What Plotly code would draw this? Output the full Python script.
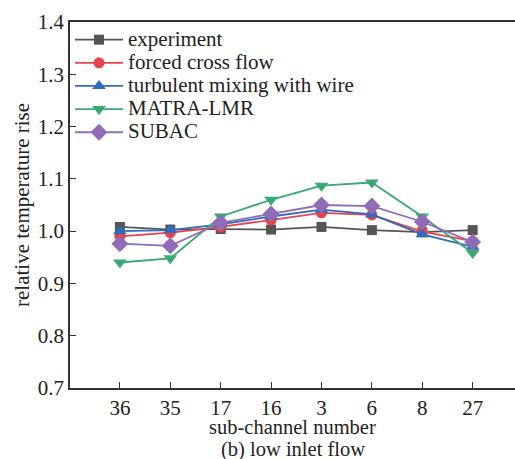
import plotly.graph_objects as go

channels = ["36", "35", "17", "16", "3", "6", "8", "27"]
experiment = [1.008, 1.003, 1.004, 1.003, 1.008, 1.002, 0.998, 1.002]
forced_cross_flow = [0.990, 0.997, 1.008, 1.021, 1.035, 1.031, 0.999, 0.981]
turbulent_mixing = [1.000, 1.002, 1.013, 1.028, 1.041, 1.032, 0.994, 0.970]
matra_lmr = [0.940, 0.948, 1.028, 1.060, 1.087, 1.093, 1.028, 0.958]
subac = [0.976, 0.972, 1.016, 1.033, 1.050, 1.048, 1.018, 0.979]

series = [
    ("experiment", experiment, "#555555", "square", 10),
    ("forced cross flow", forced_cross_flow, "#e8434b", "circle", 11),
    ("turbulent mixing with wire", turbulent_mixing, "#2f6bbf", "triangle-up", 12),
    ("MATRA-LMR", matra_lmr, "#3aa872", "triangle-down", 12),
    ("SUBAC", subac, "#8f6bb8", "diamond", 13),
]

x_idx = list(range(len(channels)))
fig = go.Figure()
for name, vals, color, sym, size in series:
    fig.add_trace(go.Scatter(
        x=x_idx, y=vals, name='<span style="font-size:21px">%s</span>' % name,
        mode="lines+markers",
        line=dict(color=color, width=1.8),
        marker=dict(symbol=sym, size=size, color=color),
    ))

font = "Liberation Serif, Times New Roman, serif"
fig.update_layout(
    width=515, height=459,
    margin=dict(l=70, r=0, t=22, b=71),
    paper_bgcolor="white", plot_bgcolor="white",
    font=dict(family=font, size=21, color="#222222"),
    showlegend=True,
    legend=dict(x=0.0, y=0.997, xanchor="left", yanchor="top",
                bgcolor="rgba(0,0,0,0)", font=dict(size=15.5, family=font),
                tracegroupgap=0, itemwidth=48),
    xaxis=dict(
        range=[-0.99, 7.84], tickmode="array", tickvals=x_idx, ticktext=channels,
        showline=True, linecolor="#333333", linewidth=1.5, mirror=True,
        ticks="inside", ticklen=6, tickcolor="#333333", showgrid=False, zeroline=False,
        automargin=False, tickfont=dict(size=21),
    ),
    yaxis=dict(
        range=[0.7, 1.4], tickvals=[0.7, 0.8, 0.9, 1.0, 1.1, 1.2, 1.3, 1.4],
        tickformat=".1f",
        showline=True, linecolor="#333333", linewidth=1.5,
        ticks="inside", ticklen=6, tickcolor="#333333", showgrid=False, zeroline=False,
        automargin=False, tickfont=dict(size=21),
    ),
    annotations=[
        dict(text="relative temperature rise", x=-0.108, y=0.5, xref="paper", yref="paper",
             xanchor="center", yanchor="middle", textangle=-90, showarrow=False,
             font=dict(size=21)),
        dict(text="sub-channel number", x=0.5, y=-0.107, xref="paper", yref="paper",
             xanchor="center", yanchor="middle", showarrow=False, font=dict(size=20.5)),
        dict(text="(b) low inlet flow", x=0.5, y=-0.167, xref="paper", yref="paper",
             xanchor="center", yanchor="middle", showarrow=False, font=dict(size=20.5)),
    ],
)

fig.write_html("out.html", config={"displayModeBar": False},
               post_script="document.body.style.margin='0';")
